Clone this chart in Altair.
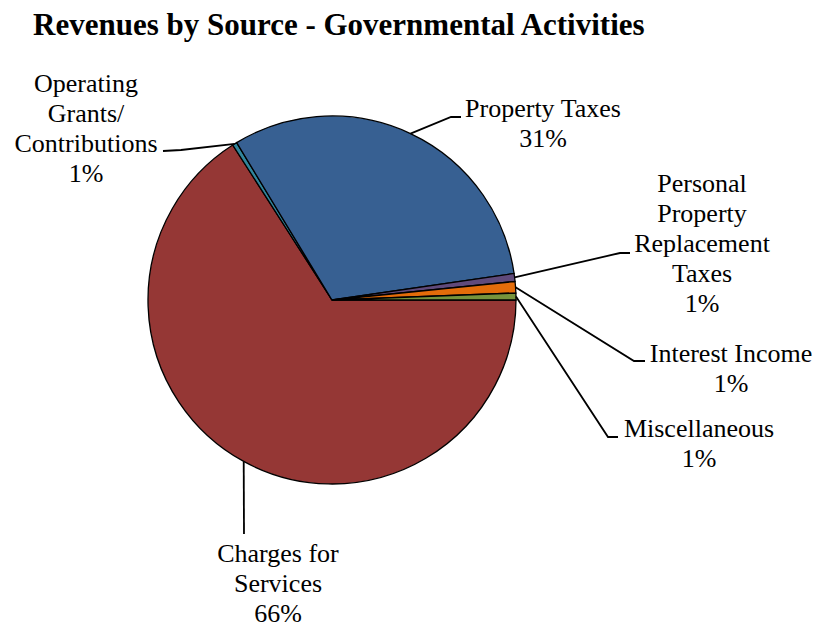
import math
import altair as alt
import pandas as pd

# ---- data ----
title_text = "Revenues by Source - Governmental Activities"
names = ["Charges for Services", "Operating Grants/Contributions", "Property Taxes",
         "Personal Property Replacement Taxes", "Interest Income", "Miscellaneous"]
values = [65.8, 0.4, 31.3, 0.7, 1.0, 0.6]
pct_labels = ["66%", "1%", "31%", "1%", "1%", "1%"]
label_lines = [["Charges for", "Services"], ["Operating", "Grants/", "Contributions"],
               ["Property Taxes"], ["Personal", "Property", "Replacement", "Taxes"],
               ["Interest Income"], ["Miscellaneous"]]
colors = ["#953735", "#31859C", "#376092", "#604A7B", "#E46C0A", "#77933C"]

# ---- layout (page pixel coordinates) ----
FONT = "Liberation Serif, Times New Roman, serif"
OX, OY = 8, 8           # plot origin on the page (page margin)
W, H = 806, 619
CX, CY, R = 332, 300, 184
START = math.pi / 2     # first slice starts at 3 o'clock
title_pos = (33, 35)
label_pos = [(278, 562), (86, 92), (543, 117), (702, 192), (731, 362), (699, 437)]
leader_elbow = [(244, 534), (181, 150), (451, 117), (620, 253), (634, 361), (608, 437)]
leader_end = [(244, 534), (163, 151), (461, 117), (630, 253), (645, 361), (618, 437)]

total = sum(values)
rows, seg = [], []
cum = 0.0
for i, (n, v) in enumerate(zip(names, values)):
    mid = START + 2 * math.pi * (cum + v / 2) / total
    cum += v
    sx = CX + R * math.sin(mid)
    sy = CY - R * math.cos(mid)
    pts = [(sx, sy), leader_elbow[i], leader_end[i]]
    for k, (px, py) in enumerate(pts):
        seg.append({"name": n, "step": k, "x": px - OX, "y": py - OY})
    lx, ly = label_pos[i]
    rows.append({"idx": i, "name": n, "value": v,
                 "lines": label_lines[i] + [pct_labels[i]],
                 "lx": lx - OX, "ly": ly - OY})

df = pd.DataFrame(rows)
segdf = pd.DataFrame(seg)
tdf = pd.DataFrame([{"t": title_text, "x": title_pos[0] - OX, "y": title_pos[1] - OY}])

xs = alt.Scale(domain=[0, W], range=[0, W])
ys = alt.Scale(domain=[0, H], range=[0, H])

pie = alt.Chart(df).mark_arc(radius=R, stroke="black", strokeWidth=1.3).encode(
    theta=alt.Theta("value:Q", stack=True,
                    scale=alt.Scale(range=[START, START + 2 * math.pi])),
    color=alt.Color("name:N", scale=alt.Scale(domain=names, range=colors), legend=None),
    order=alt.Order("idx:Q"),
    x=alt.value(CX - OX),
    y=alt.value(CY - OY),
)

leaders = alt.Chart(segdf).mark_line(color="black", strokeWidth=1.8).encode(
    x=alt.X("x:Q", scale=xs, axis=None),
    y=alt.Y("y:Q", scale=ys, axis=None),
    detail="name:N",
    order="step:Q",
)

labels = alt.Chart(df).mark_text(
    font=FONT, fontSize=26, align="center", baseline="alphabetic",
    lineHeight=30, color="black"
).encode(
    x=alt.X("lx:Q", scale=xs, axis=None),
    y=alt.Y("ly:Q", scale=ys, axis=None),
    text="lines",
)

title = alt.Chart(tdf).mark_text(
    font=FONT, fontSize=31, fontWeight="bold", align="left", baseline="alphabetic",
    color="black"
).encode(
    x=alt.X("x:Q", scale=xs, axis=None),
    y=alt.Y("y:Q", scale=ys, axis=None),
    text="t:N",
)

chart = alt.layer(pie, leaders, labels, title).properties(
    width=W, height=H,
    autosize=alt.AutoSizeParams(type="none"),
    padding=0,
).configure_view(stroke=None)

chart.save("out.html", embed_options={"renderer": "svg", "actions": False})
